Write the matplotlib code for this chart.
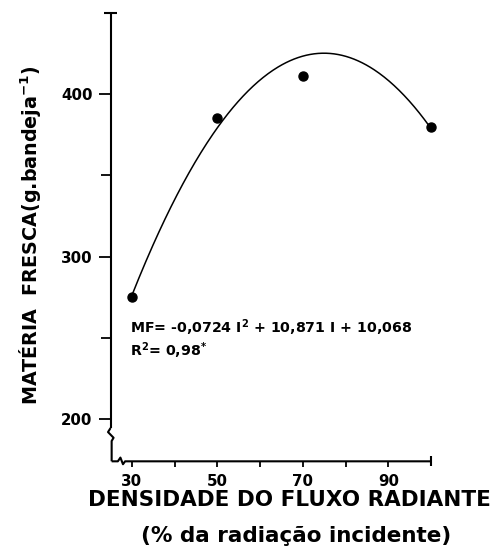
import matplotlib
matplotlib.use("Agg")
import matplotlib.pyplot as plt
import numpy as np

# ---- data ----
x_obs = [30, 50, 70, 100]
y_obs = [275, 385, 411, 380]
# regression curve as drawn
curve_x = [30, 40, 50, 60, 70, 80, 90, 100]
curve_y = [276, 335, 380, 409, 423, 423, 408, 379]
x_major = [30, 50, 70, 90]
x_minor = [40, 60, 80]
x_labels = ["30", "50", "70", "90"]
y_major = [200, 300, 400]
y_minor = [250, 350]
y_labels = ["200", "300", "400"]

plt.rcParams['font.family'] = ['DejaVu Sans']
plt.rcParams['font.weight'] = 'bold'
plt.rcParams['mathtext.default'] = 'bf'

fig = plt.figure(figsize=(4.93, 5.55), dpi=100)
ax = fig.add_axes([0.2243, 0.1688, 0.6504, 0.8081])
ax.set_xlim(25, 100)
ax.set_ylim(174, 450)
for s in ax.spines.values():
    s.set_visible(False)

lw_ax = 1.5
k = dict(color='black', lw=lw_ax, clip_on=False, solid_capstyle='butt')
# y axis with break
ax.plot([25, 25], [450, 194.5], **k)
ax.plot([25, 24.4, 25.7, 25.25, 25.25], [194.5, 192, 188.5, 186.5, 174], **k)
# x axis with break
ax.plot([25.25, 26.7, 27.3, 27.9, 28.4, 100], [174, 174, 176.3, 172.2, 174, 174], **k)
# top cap and end cap
ax.plot([23.5, 26.5], [450, 450], **k)
ax.plot([100, 100], [171, 177.5], **k)

ax.set_xticks(x_major)
ax.set_xticklabels(x_labels)
ax.set_xticks(x_minor, minor=True)
ax.set_yticks(y_major)
ax.set_yticklabels(y_labels)
ax.set_yticks(y_minor, minor=True)
ax.tick_params(axis='y', which='major', direction='out', length=9, width=1.3, pad=4, labelsize=10.8)
ax.tick_params(axis='y', which='minor', direction='out', length=7, width=1.3)
ax.tick_params(axis='x', which='both', direction='out', length=4, width=1.3, pad=5, labelsize=10.8)

# curve (quadratic fit through the drawn curve)
coef = np.polyfit(curve_x, curve_y, 2)
xs = np.linspace(curve_x[0], curve_x[-1], 300)
ax.plot(xs, np.polyval(coef, xs), color='black', lw=1.1, clip_on=False)
ax.plot(x_obs, y_obs, 'o', color='black', markersize=6.5, clip_on=False)

ax.text(29.5, 256, r"MF= -0,0724 I$^{2}$ + 10,871 I + 10,068", fontsize=10.2,
        fontweight='bold', va='center', ha='left')
ax.text(29.5, 242, r"R$^{2}$= 0,98$^{*}$", fontsize=10.2,
        fontweight='bold', va='center', ha='left')

fig.text(30/493, 1-235/555, r"MATÉRIA  FRESCA(g.bandeja$^{-1}$)", rotation=90,
         ha='center', va='center', fontsize=13.8, fontweight='bold')
fig.text(289/493, 1-500/555, "DENSIDADE DO FLUXO RADIANTE", ha='center', va='center',
         fontsize=15.5, fontweight='bold')
fig.text(296/493, 1-536/555, "(% da radiação incidente)", ha='center', va='center',
         fontsize=15.5, fontweight='bold')

fig.savefig("out.png", dpi=100)
